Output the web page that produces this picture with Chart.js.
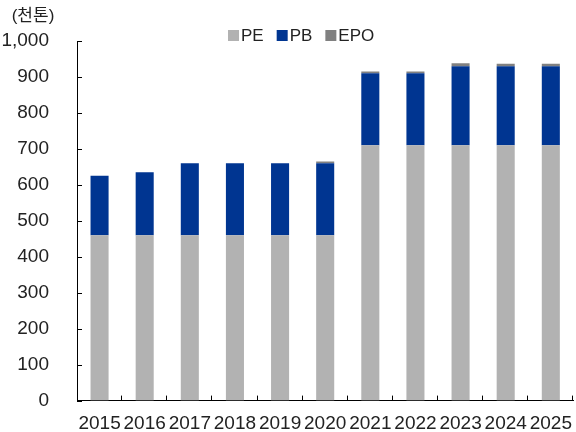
<!DOCTYPE html>
<html>
<head>
<meta charset="utf-8">
<script src="https://cdn.jsdelivr.net/npm/chart.js@4"></script>
<style>
  body { margin: 0; background: #fff; }
  #wrap { width: 576px; height: 432px; }
</style>
</head>
<body>
<div id="wrap"><canvas id="chart"></canvas></div>
<script>
const years = ['2015', '2016', '2017', '2018', '2019', '2020', '2021', '2022', '2023', '2024', '2025'];
const pe = [460, 460, 460, 460, 460, 460, 710, 710, 710, 710, 710];
const pb = [165, 175, 200, 200, 200, 200, 200, 200, 220, 220, 220];
const epo = [0, 0, 0, 0, 0, 5, 5, 5, 8, 7, 7];
const yTicks = [0, 100, 200, 300, 400, 500, 600, 700, 800, 900, 1000];

const FONT = "'Liberation Sans', 'Noto Sans CJK KR', sans-serif";
const TEXT = '#222';

// inner tick marks, unit label and legend
const decor = {
    id: 'decor',
    afterDraw(chart) {
        const ctx = chart.ctx;
        const x = chart.scales.x, y = chart.scales.y;
        ctx.save();
        ctx.strokeStyle = '#000';
        ctx.lineWidth = 1;
        ctx.beginPath();
        yTicks.forEach(v => {
            const py = Math.round(y.getPixelForValue(v)) + 0.5;
            ctx.moveTo(x.left, py);
            ctx.lineTo(x.left + 5, py);
        });
        const step = (x.right - x.left) / years.length;
        for (let i = 1; i <= years.length; i++) {
            const px = Math.round(x.left + step * i) - 0.5;
            ctx.moveTo(px, y.bottom);
            ctx.lineTo(px, y.bottom - 5);
        }
        ctx.stroke();

        ctx.fillStyle = TEXT;
        ctx.font = '17px ' + FONT;
        ctx.textAlign = 'center';
        ctx.textBaseline = 'middle';
        ctx.fillText('(천톤)', 33, 16);

        // legend
        ctx.textAlign = 'left';
        let lx = 228;
        chart.data.datasets.forEach(ds => {
            ctx.fillStyle = ds.backgroundColor;
            ctx.fillRect(lx, 30, 11, 11);
            ctx.fillStyle = TEXT;
            ctx.fillText(ds.label, lx + 13, 36);
            lx += 13 + ctx.measureText(ds.label).width + 13;
        });
        ctx.restore();
    }
};

new Chart(document.getElementById('chart'), {
    type: 'bar',
    data: {
        labels: years,
        datasets: [
            { label: 'PE', data: pe, backgroundColor: '#b2b2b2' },
            { label: 'PB', data: pb, backgroundColor: '#003591' },
            { label: 'EPO', data: epo, backgroundColor: '#808080' }
        ]
    },
    options: {
        responsive: true,
        maintainAspectRatio: false,
        animation: false,
        layout: { padding: { top: 41, right: 1, left: 0, bottom: -11 } },
        datasets: { bar: { barPercentage: 0.4, categoryPercentage: 1 } },
        plugins: {
            legend: { display: false },
            tooltip: { enabled: false }
        },
        scales: {
            x: {
                stacked: true,
                grid: { display: false },
                border: { display: true, color: '#000' },
                ticks: { color: TEXT, font: { size: 19, family: FONT }, maxRotation: 0, autoSkip: false, padding: 4 }
            },
            y: {
                stacked: true,
                min: 0,
                max: 1000,
                grid: { display: false },
                border: { display: true, color: '#000' },
                afterFit: scale => { scale.width = 77; },
                ticks: {
                    stepSize: 100,
                    color: TEXT,
                    padding: 20,
                    font: { size: 19, family: FONT },
                    callback: v => v.toLocaleString('en-US')
                }
            }
        }
    },
    plugins: [decor]
});
</script>
</body>
</html>
